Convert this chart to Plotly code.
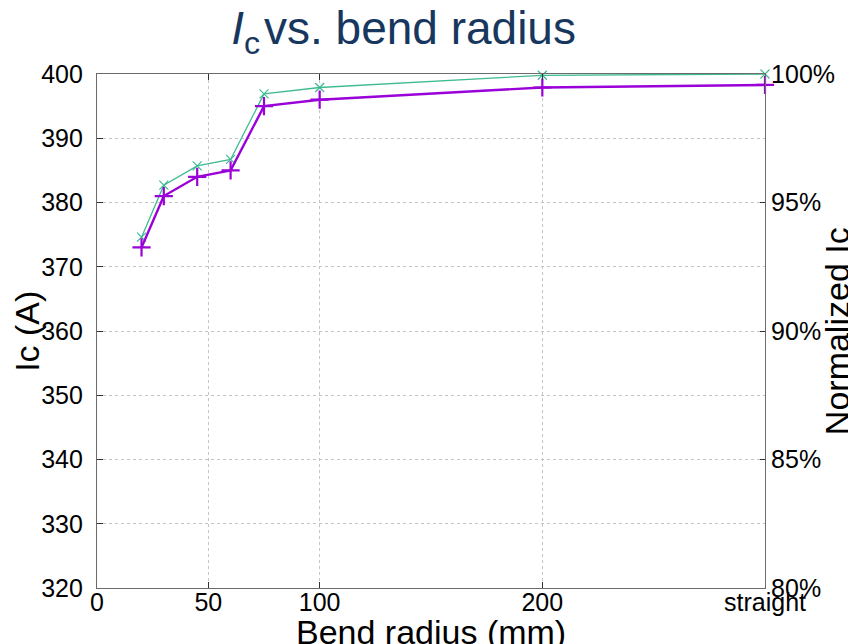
import plotly.graph_objects as go

# Data
radius_pos = [20, 30, 45, 60, 75, 100, 200, 300]   # 300 = "straight"
ic_purple = [373.0, 381.0, 384.0, 385.0, 395.0, 396.0, 397.9, 398.3]
ic_green = [374.6, 382.7, 385.7, 386.7, 396.9, 397.9, 399.8, 400.0]
x_tickvals = [0, 50, 100, 200, 300]
x_ticktext = ["0", "50", "100", "200", "straight"]
y_ticks = [320, 330, 340, 350, 360, 370, 380, 390, 400]
y2_ticks = [0.80, 0.85, 0.90, 0.95, 1.00]
y2_ticktext = ["80%", "85%", "90%", "95%", "100%"]

FONT = "Liberation Sans, Arial, sans-serif"
GREEN = "#3dbb92"
PURPLE = "#9a00d8"
AXIS = "#6b6b6b"
GRID = "#c4c4c4"

fig = go.Figure()
fig.add_trace(go.Scatter(
    x=radius_pos, y=ic_green, mode="lines+markers",
    line=dict(color=GREEN, width=1.3),
    marker=dict(symbol="x-thin", size=9, line=dict(color=GREEN, width=1.2)),
    cliponaxis=False, showlegend=False))
fig.add_trace(go.Scatter(
    x=radius_pos, y=ic_purple, mode="lines+markers",
    line=dict(color=PURPLE, width=2.4),
    marker=dict(symbol="cross-thin", size=13, line=dict(color=PURPLE, width=2.2)),
    cliponaxis=False, showlegend=False))
# invisible trace to activate y2
fig.add_trace(go.Scatter(x=[0], y=[1.0], yaxis="y2", mode="markers",
                         marker=dict(opacity=0), showlegend=False, hoverinfo="skip"))

fig.update_layout(
    width=856, height=644,
    margin=dict(l=89, r=99, t=66, b=64, autoexpand=False),
    paper_bgcolor="white", plot_bgcolor="white",
    font=dict(family=FONT, size=25, color="black"),
    title=dict(text="<i>I</i><sub>c</sub>\u200avs. bend radius",
               font=dict(family=FONT, size=46, color="#17375e"),
               x=0.459, xanchor="center", xref="paper",
               y=0.969, yanchor="middle", yref="container", automargin=False),
    xaxis=dict(range=[0, 300], tickvals=x_tickvals, ticktext=x_ticktext,
               showline=True, linecolor=AXIS, linewidth=1.2, mirror="ticks",
               ticks="inside", ticklen=6, tickcolor="#333",
               showgrid=True, gridcolor=GRID, griddash="3px,3px", gridwidth=1,
               zeroline=False, tickfont=dict(size=25), automargin=False,
               ticklabelstandoff=-8),
    yaxis=dict(range=[320, 400], tickvals=y_ticks,
               showline=True, linecolor=AXIS, linewidth=1.2,
               ticks="inside", ticklen=6, tickcolor="#333",
               showgrid=True, gridcolor=GRID, griddash="3px,3px", gridwidth=1,
               zeroline=False, tickfont=dict(size=25), ticklabelstandoff=8,
               automargin=False),
    yaxis2=dict(range=[0.8, 1.0], tickvals=y2_ticks, ticktext=y2_ticktext,
                overlaying="y", side="right",
                showline=True, linecolor=AXIS, linewidth=1.2,
                ticks="inside", ticklen=5, tickcolor="#333",
                showgrid=False, zeroline=False, tickfont=dict(size=25),
                automargin=False),
    annotations=[
        dict(text="Ic (A)", xref="paper", yref="paper", x=-0.105, y=0.5,
             textangle=-90, showarrow=False, font=dict(size=34),
             xanchor="center", yanchor="middle"),
        dict(text="Normalized Ic", xref="paper", yref="paper", x=1.108, y=0.5,
             textangle=-90, showarrow=False, font=dict(size=34),
             xanchor="center", yanchor="middle"),
        dict(text="Bend radius (mm)", xref="paper", yref="paper", x=0.5, y=-0.044,
             showarrow=False, font=dict(size=34), xanchor="center", yanchor="top"),
    ],
)

fig.write_html("out.html")
